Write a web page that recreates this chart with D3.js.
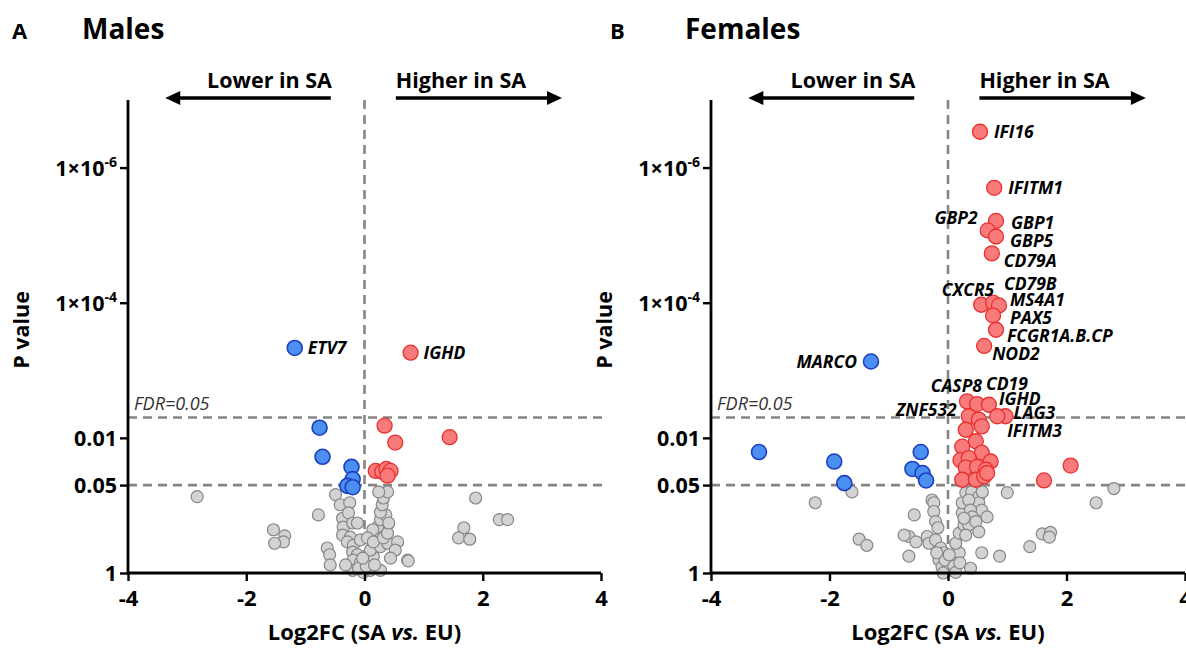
<!DOCTYPE html>
<html><head><meta charset="utf-8">
<script src="https://cdn.jsdelivr.net/npm/d3@7"></script>
<style>body{margin:0;background:#fff}svg{display:block}text{font-family:'Open Sans',sans-serif}</style>
</head><body><svg id="c" width="1186" height="648"></svg>
<script>
// ---------- data ----------
const xTicks = [-4, -2, 0, 2, 4];
const yTicks = [1, 0.05, 0.01, 1e-4, 1e-6];
const nominalP = 0.05;
const fdrP = 0.005;

// values are [log2FC, -log10(P)]
const malesGrey = [
 [-2.83,1.13],[-0.78,0.86],[-1.54,0.64],[-1.35,0.55],[-1.37,0.46],[-1.52,0.44],[-0.63,0.37],[-0.59,0.27],
 [-0.58,0.12],[-0.49,1.16],[-0.41,1.01],[-0.25,1.04],[-0.37,0.81],[-0.27,0.89],[-0.36,0.68],[-0.20,0.74],
 [-0.12,0.74],[-0.37,0.56],[-0.24,0.53],[-0.29,0.46],[-0.19,0.41],[-0.07,0.49],[-0.20,0.31],[-0.12,0.27],
 [-0.19,0.19],[-0.07,0.15],[-0.20,0.04],[-0.02,0.01],[0.10,0.04],[0.27,0.04],[0.05,0.19],[0.15,0.24],
 [0.10,0.34],[0.27,0.39],[0.39,0.44],[0.56,0.46],[0.52,0.34],[0.44,0.22],[0.73,0.19],[0.27,0.59],
 [0.32,0.68],[0.22,0.68],[0.14,0.64],[0.27,0.79],[0.36,0.86],[0.27,0.90],[0.30,1.01],[0.32,1.11],
 [0.39,1.20],[0.24,1.20],[0.05,0.52],[0.15,0.46],[0.32,0.52],[0.39,0.59],[0.41,0.74],[1.88,1.11],
 [2.28,0.79],[2.42,0.79],[1.68,0.67],[1.59,0.52],[1.78,0.50],[0.74,0.18],[-0.10,0.07],[0.03,0.10],
 [0.17,0.12],[-0.03,0.22],[-0.32,0.12]
];
const malesDown = [[-1.18,3.33,"ETV7"],[-0.76,2.15],[-0.71,1.72],[-0.22,1.57],[-0.20,1.39],[-0.29,1.29],[-0.20,1.27]];
const malesUp = [[0.78,3.26,"IGHD"],[0.34,2.18],[0.52,1.93],[1.44,2.01],[0.19,1.51],[0.30,1.50],[0.37,1.54],[0.44,1.51],[0.39,1.44]];

const femalesGrey = [
 [-2.24,1.04],[-1.62,1.20],[-1.50,0.50],[-1.37,0.41],[-0.66,0.54],[-0.74,0.56],[-0.57,0.86],[-0.54,0.46],
 [-0.66,0.25],[-0.27,1.08],[-0.24,1.04],[-0.24,0.91],[-0.21,0.76],[-0.17,0.67],[-0.35,0.54],[-0.32,0.44],
 [-0.21,0.49],[-0.12,0.37],[-0.07,0.30],[-0.15,0.19],[-0.10,0.09],[-0.02,0.04],[0.07,0.04],[0.13,0.19],
 [0.19,0.30],[0.13,0.44],[0.19,0.59],[0.27,0.71],[0.24,0.89],[0.24,1.04],[0.30,1.19],[0.40,1.20],
 [0.52,1.13],[0.52,1.04],[0.57,0.93],[0.35,1.08],[0.38,0.93],[0.41,0.83],[0.35,0.71],[0.30,0.56],
 [0.47,0.76],[0.66,0.83],[0.52,0.61],[0.57,0.30],[0.87,0.25],[0.38,0.07],[1.00,1.19],[1.38,0.39],
 [1.59,0.58],[1.73,0.60],[1.71,0.53],[2.50,1.04],[2.80,1.25],[0.58,1.20],[0.27,0.81],[0.03,0.12],
 [-0.05,0.19],[0.10,0.10],[0.02,0.27],[-0.08,0.00],[0.13,0.01],[-0.19,0.30],[0.20,0.15]
];
const femalesDown = [[-1.30,3.13,"MARCO"],[-3.19,1.79],[-1.92,1.65],[-1.75,1.33],[-0.46,1.79],[-0.60,1.54],[-0.43,1.48],[-0.37,1.37]];
const femalesUp = [
 [0.54,6.53,"IFI16"],[0.78,5.70,"IFITM1"],[0.81,5.21,"GBP1"],[0.67,5.07,"GBP2"],[0.81,4.98,"GBP5"],
 [0.74,4.73,"CD79A"],[0.56,3.97,"CXCR5"],[0.76,4.00,"CD79B"],[0.86,3.96,"MS4A1"],[0.76,3.81,"PAX5"],
 [0.81,3.60,"FCGR1A.B.CP"],[0.61,3.36,"NOD2"],[0.32,2.54,"CASP8"],[0.49,2.50,"CD19"],[0.69,2.49,"IGHD"],
 [0.97,2.32,"LAG3"],[0.83,2.32,"IFITM3"],[0.35,2.32,"ZNF532"],
 [0.52,2.27],[0.57,2.17],[0.30,2.12],[0.47,1.95],[0.24,1.87],[0.57,1.78],[0.72,1.65],[0.21,1.67],
 [0.35,1.70],[0.30,1.56],[0.49,1.57],[0.64,1.53],[0.24,1.38],[0.47,1.38],[0.61,1.43],[0.66,1.48],
 [1.62,1.37],[2.07,1.59]
];

// label placement (annotation offsets in px: dx, dy, anchor)
const labelOffsets = {
 ETV7:[13,0,"start"], IGHD_M:[13,0,"start"], MARCO:[-14,0,"end"],
 IFI16:[14,0,"start"], IFITM1:[14,0,"start"], GBP1:[15,2,"start"], GBP2:[-10,-13,"end"],
 GBP5:[14,4,"start"], CD79A:[12,7,"start"], CD79B:[11,-19,"start"], CXCR5:[13,-15,"end"],
 MS4A1:[11,-6,"start"], PAX5:[17,2,"start"], "FCGR1A.B.CP":[11,6,"start"], NOD2:[8,8,"start"],
 CASP8:[15,-16,"end"], CD19:[9,-21,"start"], IGHD:[10,-6,"start"], LAG3:[8,-4,"start"],
 ZNF532:[-12,-7,"end"], IFITM3:[10,14,"start"]
};

// ---------- drawing ----------
const svg = d3.select("#c");
const toP = v => Math.pow(10, -v);
const yScale = d3.scaleLog().domain([1, 1e-7]).range([573, 100]);

const styles = {
  grey: {fill:"#d3d3d3", stroke:"#878787", r:6, sw:1.2},
  up:   {fill:"#f87a7a", stroke:"#e8312f", r:7.5, sw:1.3},
  down: {fill:"#4b8ff0", stroke:"#1c3fc2", r:7.5, sw:1.6}
};

function panel(opts) {
  const x = d3.scaleLinear().domain([-4, 4]).range(opts.xRange);
  const g = svg.append("g");
  const x0 = opts.xRange[0], x1 = opts.xRange[1];

  // titles
  g.append("text").attr("x", opts.letterX).attr("y", 39).attr("font-size", 22).attr("font-weight", 700).text(opts.letter);
  g.append("text").attr("x", opts.titleX).attr("y", 39).attr("font-size", 28).attr("font-weight", 700).text(opts.title);

  // dashed lines
  const dashLine = sel => sel.attr("stroke", "#858585").attr("stroke-width", 2.6).attr("stroke-dasharray", "9,6");
  [nominalP, fdrP].forEach(p => {
    g.append("line").attr("x1", x0).attr("x2", x1 + 2).attr("y1", yScale(p)).attr("y2", yScale(p)).call(dashLine);
  });
  g.append("line").attr("x1", x(0)).attr("x2", x(0)).attr("y1", 100).attr("y2", 573).call(dashLine);
  g.append("text").attr("x", x0 + 6).attr("y", yScale(fdrP) - 8).attr("font-size", 18).attr("font-style", "italic").attr("fill", "#333").text("FDR=0.05");

  // points
  const drawPts = (arr, st) => g.append("g").selectAll("circle").data(arr).join("circle")
    .attr("cx", d => x(d[0])).attr("cy", d => yScale(toP(d[1])))
    .attr("r", st.r).attr("fill", st.fill).attr("stroke", st.stroke).attr("stroke-width", st.sw);
  drawPts(opts.grey, styles.grey);
  drawPts(opts.down, styles.down);
  drawPts(opts.up, styles.up);

  // labels
  const labeled = opts.up.concat(opts.down).filter(d => d[2]);
  g.append("g").selectAll("text").data(labeled).join("text")
    .each(function(d) {
      const key = (opts.letter === "A" && d[2] === "IGHD") ? "IGHD_M" : d[2];
      const o = labelOffsets[key];
      d3.select(this).attr("x", x(d[0]) + o[0]).attr("y", yScale(toP(d[1])) + o[1] + 6.5).attr("text-anchor", o[2]);
    })
    .attr("font-size", 17.5).attr("font-weight", 700).attr("font-style", "italic").text(d => d[2]);

  // axes
  const xAxis = g.append("g").attr("transform", "translate(0,573)")
    .call(d3.axisBottom(x).tickValues(xTicks).tickSize(8).tickFormat(d3.format("d")));
  xAxis.select(".domain").attr("stroke-width", 2.8).attr("d", `M${x0},0H${x1}`);
  xAxis.selectAll(".tick line").attr("stroke-width", 2.4);
  xAxis.selectAll(".tick text").attr("font-size", 22).attr("font-weight", 700).attr("fill", "#000")
    .attr("font-family", "'Open Sans',sans-serif").attr("dy", "1.0em").text(d => d < 0 ? "-" + Math.abs(d) : d);

  const yAxis = g.append("g").attr("transform", `translate(${x0},0)`)
    .call(d3.axisLeft(yScale).tickValues(yTicks).tickSize(8).tickFormat(""));
  yAxis.select(".domain").attr("stroke-width", 2.8).attr("d", `M0,100V574`);
  yAxis.selectAll(".tick line").attr("stroke-width", 2.4);
  yAxis.selectAll(".tick").each(function(d) {
    const t = d3.select(this).append("text").attr("x", -11).attr("y", 0).attr("dy", "0.35em")
      .attr("text-anchor", "end").attr("font-size", 21.5).attr("font-weight", 700).attr("fill", "#000")
      .attr("font-family", "'Open Sans',sans-serif");
    if (d >= 0.01) { t.text(d === 1 ? "1" : String(d)); }
    else {
      const e = Math.round(Math.log10(d));
      t.append("tspan").text("1×10");
      t.append("tspan").attr("font-size", 14).attr("dy", "-0.65em").text(String(e));
    }
  });

  // axis titles
  g.append("text").attr("transform", `translate(${x0 - 99},330) rotate(-90)`).attr("text-anchor", "middle")
    .attr("font-size", 21.5).attr("font-weight", 700).text("P value");
  const xl = g.append("text").attr("x", x(0)).attr("y", 640).attr("text-anchor", "middle").attr("font-size", 22).attr("font-weight", 700);
  xl.append("tspan").text("Log2FC (SA ");
  xl.append("tspan").attr("font-style", "italic").text("vs.");
  xl.append("tspan").text(" EU)");

  // direction arrows
  const ay = 98;
  g.append("line").attr("x1", x(-0.57)).attr("x2", x(-3.2)).attr("y1", ay).attr("y2", ay).attr("stroke", "#000").attr("stroke-width", 3.5);
  g.append("line").attr("x1", x(0.53)).attr("x2", x(3.16)).attr("y1", ay).attr("y2", ay).attr("stroke", "#000").attr("stroke-width", 3.5);
  g.append("path").attr("d", `M${x(-3.37)},${ay}l15,-7v14z`).attr("fill", "#000");
  g.append("path").attr("d", `M${x(3.34)},${ay}l-15,-7v14z`).attr("fill", "#000");
  g.append("text").attr("x", x(-0.55)).attr("y", 88).attr("text-anchor", "end").attr("font-size", 21.5).attr("font-weight", 700).text("Lower in SA");
  g.append("text").attr("x", x(0.53)).attr("y", 88).attr("text-anchor", "start").attr("font-size", 21.5).attr("font-weight", 700).text("Higher in SA");
}

panel({letter:"A", letterX:12, title:"Males", titleX:82, xRange:[128, 601], grey:malesGrey, up:malesUp, down:malesDown});
panel({letter:"B", letterX:610, title:"Females", titleX:685, xRange:[711, 1185], grey:femalesGrey, up:femalesUp, down:femalesDown});
</script></body></html>
